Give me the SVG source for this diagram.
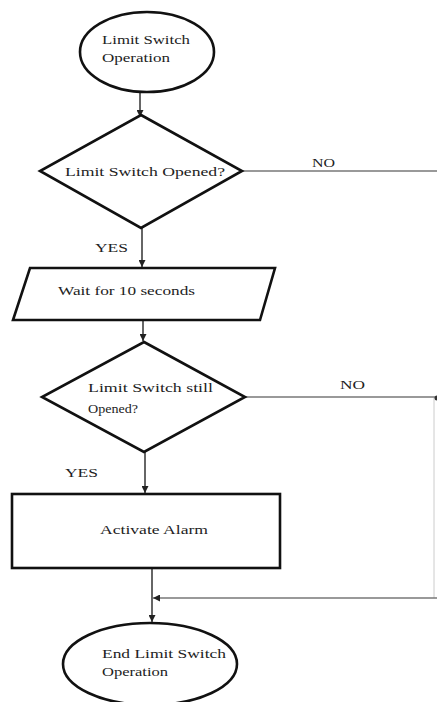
<svg xmlns="http://www.w3.org/2000/svg" width="437" height="702" viewBox="0 0 437 702">
<style>
.shape{fill:#fff;stroke:#111;stroke-width:2.6}
.conn{fill:none;stroke:#333;stroke-width:1.5}
.side{fill:none;stroke:#777;stroke-width:1.5}
.faint{fill:none;stroke:#ccc;stroke-width:1}
text{font-family:"Liberation Serif","Times New Roman",serif;font-size:13px;fill:#222}
</style>
<defs>
<marker id="arr" viewBox="0 0 10 10" refX="10" refY="5" markerWidth="7" markerHeight="7" markerUnits="userSpaceOnUse" orient="auto">
<path d="M0,0 L10,5 L0,10 z" fill="#222"/>
</marker>
</defs>
<rect width="437" height="702" fill="#fff"/>
<g id="connectors">
<path class="conn" d="M140,93 V117" marker-end="url(#arr)"/>
<path class="conn" d="M142,228 V267" marker-end="url(#arr)"/>
<path class="conn" d="M143,320 V341" marker-end="url(#arr)"/>
<path class="conn" d="M145,452 V493" marker-end="url(#arr)"/>
<path class="conn" d="M152,568 V622" marker-end="url(#arr)"/>
<path class="side" d="M242,171 H437"/>
<path class="side" d="M245,397 H436"/>
<path class="faint" d="M434,398 V598"/>
<path class="side" d="M437,598 H153" marker-end="url(#arr)"/>
<circle cx="437" cy="398" r="2.5" fill="#333"/>
<text x="312" y="167" textLength="23" lengthAdjust="spacingAndGlyphs">NO</text>
<text x="95" y="252" textLength="33" lengthAdjust="spacingAndGlyphs">YES</text>
<text x="340" y="389" textLength="25" lengthAdjust="spacingAndGlyphs">NO</text>
<text x="65" y="477" textLength="33" lengthAdjust="spacingAndGlyphs">YES</text>
</g>
<g id="start">
<ellipse class="shape" cx="147" cy="52" rx="67" ry="40"/>
<text x="102" y="44" textLength="88" lengthAdjust="spacingAndGlyphs">Limit Switch</text>
<text x="102" y="62" textLength="68" lengthAdjust="spacingAndGlyphs">Operation</text>
</g>
<g id="decision1">
<polygon class="shape" points="141,115 242,171 141,228 40,171"/>
<text x="65" y="176" textLength="160" lengthAdjust="spacingAndGlyphs">Limit Switch Opened?</text>
</g>
<g id="wait">
<polygon class="shape" points="30,268 275,268 260,320 13,320"/>
<text x="58" y="295" textLength="137" lengthAdjust="spacingAndGlyphs">Wait for 10 seconds</text>
</g>
<g id="decision2">
<polygon class="shape" points="144,342 245,397 144,452 42,397"/>
<text x="88" y="392" textLength="125" lengthAdjust="spacingAndGlyphs">Limit Switch still</text>
<text x="88" y="413" textLength="50" lengthAdjust="spacingAndGlyphs">Opened?</text>
</g>
<g id="alarm">
<rect class="shape" x="12" y="494" width="268" height="74"/>
<text x="100" y="534" textLength="108" lengthAdjust="spacingAndGlyphs">Activate Alarm</text>
</g>
<g id="end">
<ellipse class="shape" cx="150" cy="664" rx="87" ry="41"/>
<text x="102" y="658" textLength="124" lengthAdjust="spacingAndGlyphs">End Limit Switch</text>
<text x="102" y="676" textLength="66" lengthAdjust="spacingAndGlyphs">Operation</text>
</g>
</svg>
